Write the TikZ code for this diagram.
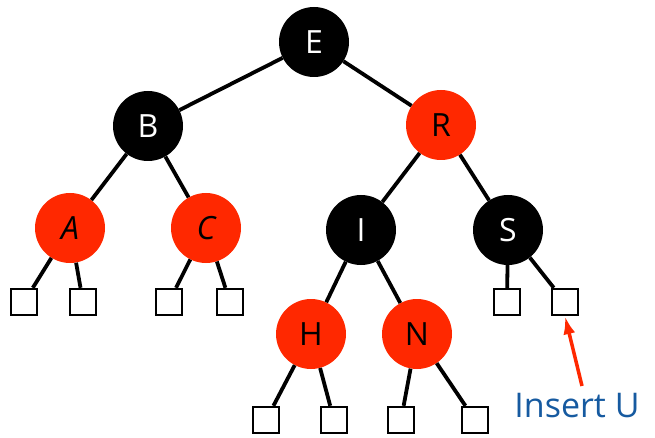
\documentclass[tikz,border=0pt]{standalone}
\usepackage{fontspec}
\setmainfont{Open Sans}
\usetikzlibrary{arrows.meta}
\definecolor{rbred}{RGB}{255,40,0}
\definecolor{txtblue}{RGB}{22,90,160}
\tikzset{
  blk/.style={circle,fill=black,minimum size=70pt,inner sep=0pt,text=white,font=\fontsize{32}{32}\selectfont},
  rd/.style={circle,fill=rbred,minimum size=70pt,inner sep=0pt,text=black,font=\fontsize{32}{32}\selectfont},
  leaf/.style={draw=black,line width=2.4pt,fill=white,minimum size=26pt,inner sep=0pt},
  edge/.style={line width=3.8pt},
}
\begin{document}
\begin{tikzpicture}[x=1pt,y=-1pt]
\useasboundingbox (0,0) rectangle (655,438);
% internal nodes
\node[blk] (E) at (314,42) {E};
\node[blk] (B) at (148,126) {B};
\node[rd]  (R) at (441,125) {R};
\node[rd]  (A) at (70,228) {\itshape A};
\node[rd]  (C) at (206,228) {\itshape C};
\node[blk] (I) at (361,230) {I};
\node[blk] (S) at (508,230) {S};
\node[rd]  (H) at (311,334) {H};
\node[rd]  (N) at (417,334) {N};
% leaves
\node[leaf] (a1) at (24,302) {};
\node[leaf] (a2) at (83,302) {};
\node[leaf] (c1) at (169,302) {};
\node[leaf] (c2) at (230,302) {};
\node[leaf] (s1) at (507,302) {};
\node[leaf] (s2) at (565,302) {};
\node[leaf] (h1) at (266,420) {};
\node[leaf] (h2) at (334,420) {};
\node[leaf] (n1) at (401,420) {};
\node[leaf] (n2) at (475,420) {};
% edges
\draw[edge] (E) -- (B);
\draw[edge] (E) -- (R);
\draw[edge] (B) -- (A);
\draw[edge] (B) -- (C);
\draw[edge] (R) -- (I);
\draw[edge] (R) -- (S);
\draw[edge] (A) -- (a1);
\draw[edge] (A) -- (a2);
\draw[edge] (C) -- (c1);
\draw[edge] (C) -- (c2);
\draw[edge] (I) -- (H);
\draw[edge] (I) -- (N);
\draw[edge] (S) -- (s1);
\draw[edge] (S) -- (s2);
\draw[edge] (H) -- (h1);
\draw[edge] (H) -- (h2);
\draw[edge] (N) -- (n1);
\draw[edge] (N) -- (n2);
% label and arrow
\node[text=txtblue,font=\fontsize{34}{34}\selectfont,anchor=base] (ins) at (577,417) {Insert U};
\coordinate (tail) at (582,386);
\draw[rbred,line width=3.5pt,-{Latex[length=18pt,width=12pt]}] (tail) -- (s2.south);
\end{tikzpicture}
\end{document}
